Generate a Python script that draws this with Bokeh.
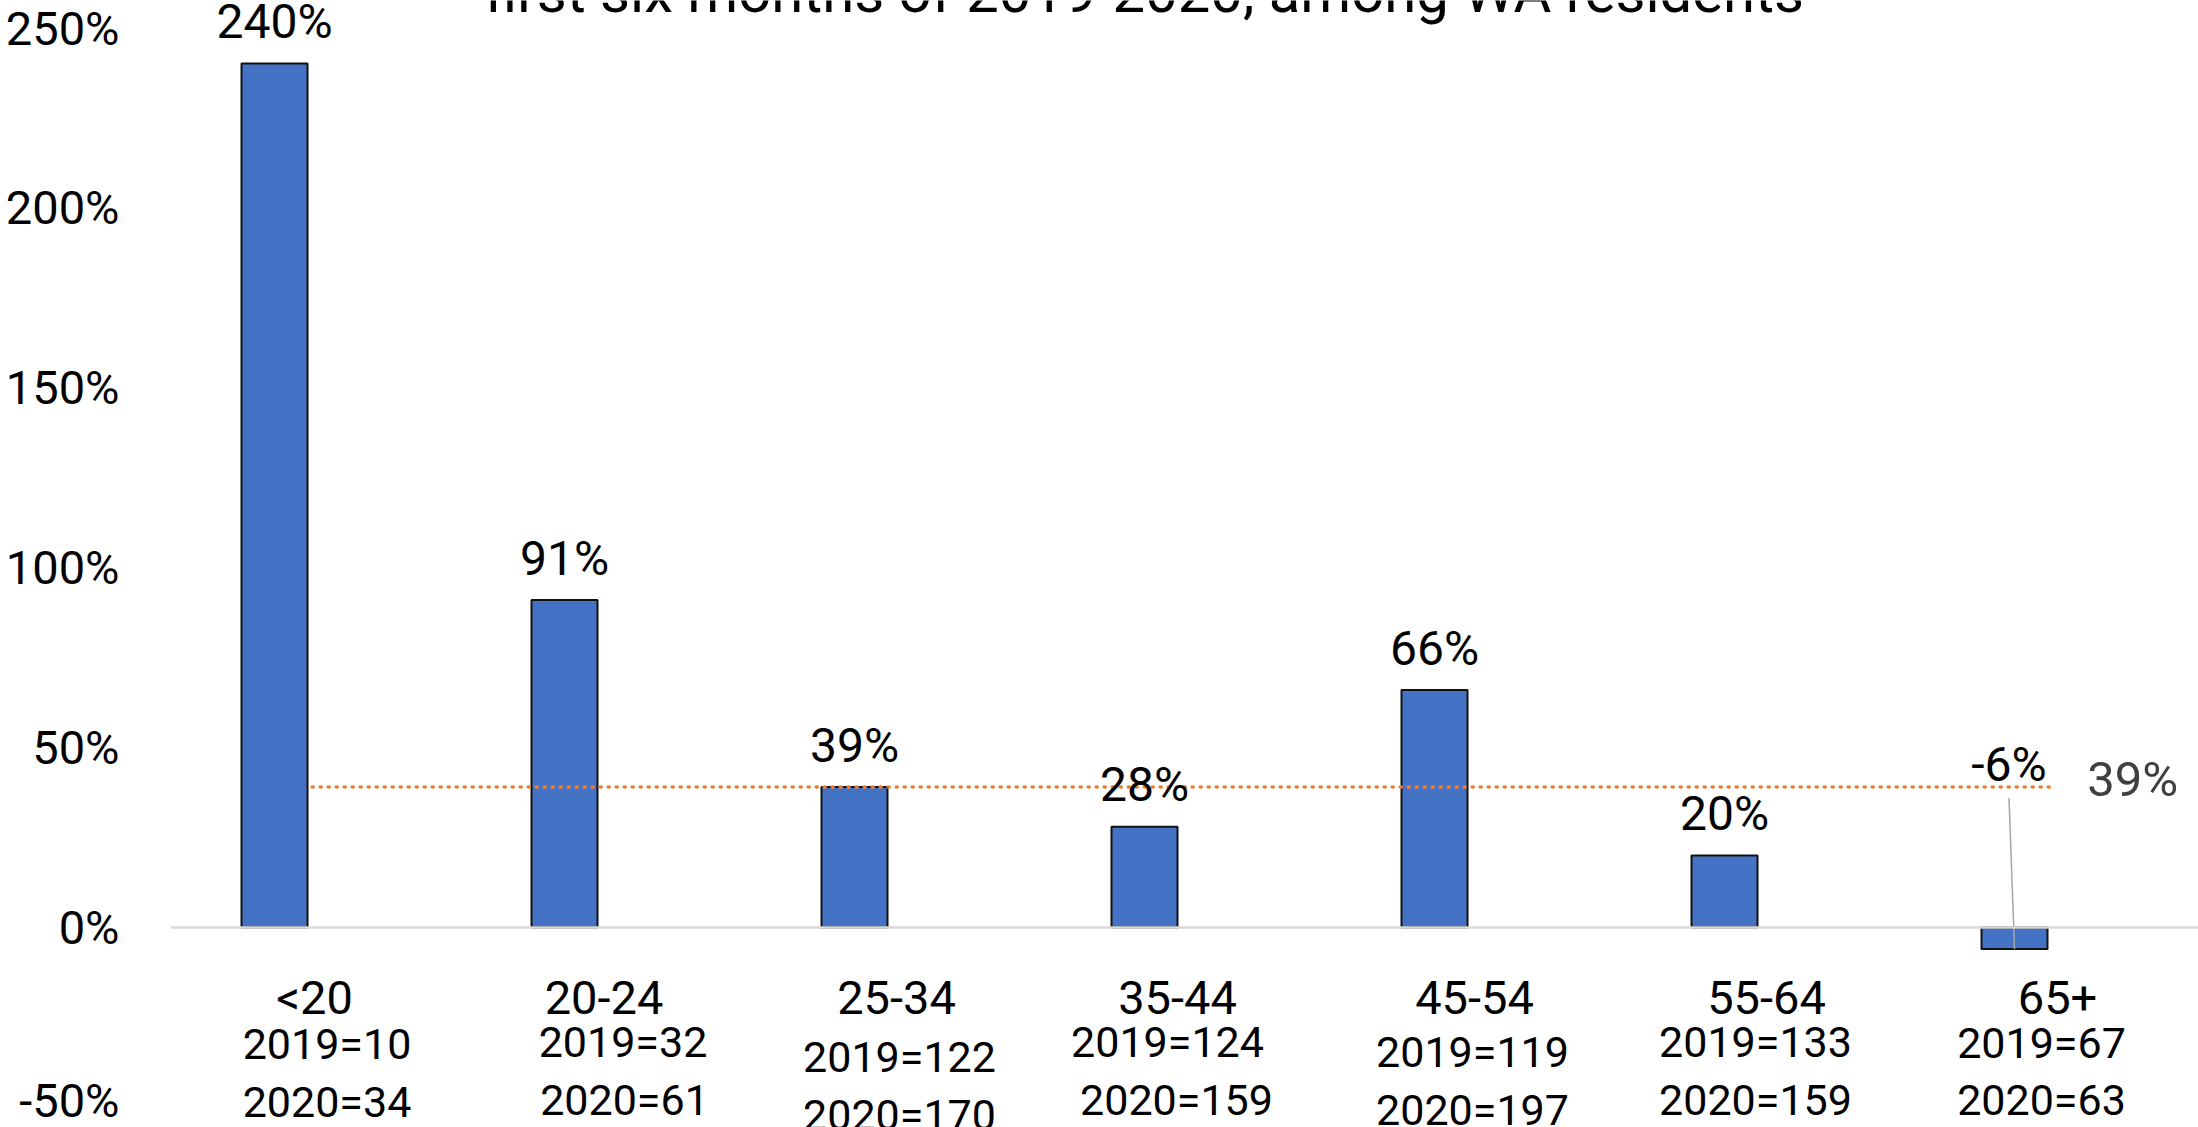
from bokeh.plotting import figure
from bokeh.models import Range1d, FixedTicker, CustomJSTickFormatter, Span
from bokeh.core.properties import value
from bokeh.embed import file_html
from bokeh.resources import INLINE

# ---------------- data ----------------
age_groups = ["<20", "20-24", "25-34", "35-44", "45-54", "55-64", "65+"]
deaths_2019 = [10, 32, 122, 124, 119, 133, 67]
deaths_2020 = [34, 61, 170, 159, 197, 159, 63]
pct_change = [240, 91, 39, 28, 66, 20, -6]
overall_change = 39
y_ticks = [-50, 0, 50, 100, 150, 200, 250]
title_text = "first six months of 2019-2020, among WA residents"

# ---------------- layout / style ----------------
W, H = 2198, 1127
LEFT = 170
CAT_PX = 290.0          # pixels per category
PX_PER_PCT = 3.6        # pixels per percentage point
ZERO_PX = 927           # canvas y of the 0% line
X_START = -104.0 / CAT_PX
X_END = X_START + (W - LEFT) / CAT_PX
Y_END = ZERO_PX / PX_PER_PCT
Y_START = -(H - ZERO_PX) / PX_PER_PCT
BASE_FIX = 0.35         # text renders this many em below the requested baseline

FONT = value("Roboto")
BLUE = "#4472C4"
ORANGE = "#ED7D31"

def dy(px):
    return px / PX_PER_PCT

def dx(px):
    return px / CAT_PX

def base(y, fs):
    """data y of anchor so that the alphabetic baseline lands at y"""
    return y + dy(BASE_FIX * fs)

idx = list(range(len(age_groups)))

# label placement (pixels)
val_lbl_dx = [0, 0, 0, 0, 0, 0, -5.5]
val_lbl_up = [25, 25, 25, 25, 25, 25, 168]
name_dx = [40, 39.5, 42, 33, 40, 42, 43]
name_base = [86] * 7
l1_dx = [52.5, 58.5, 45, 23, 38, 31, 27]
l1_base = [132, 130, 145, 130, 140, 130, 131]
l2_dx = [52.5, 60, 45, 32, 38, 31, 27]
l2_base = [190, 188, 203, 188, 198, 188, 188]
AVG_SHIFT = 0.13
FS_VAL, FS_NAME, FS_N, FS_TITLE, FS_AVG = 48, 47, 43, 58, 49

p = figure(width=W, height=H, title=None,
           x_range=Range1d(X_START, X_END), y_range=Range1d(Y_START, Y_END),
           output_backend="svg", toolbar_location=None, x_axis_location=None,
           min_border_left=LEFT, min_border_right=0,
           min_border_top=0, min_border_bottom=0,
           outline_line_color=None, background_fill_color="white", border_fill_color="white")
p.grid.visible = False

ax = p.yaxis[0]
ax.ticker = FixedTicker(ticks=y_ticks, minor_ticks=[])
ax.formatter = CustomJSTickFormatter(code="return tick.toFixed(0) + '%';")
ax.axis_line_color = None
ax.major_tick_line_color = None
ax.minor_tick_line_color = None
ax.major_tick_out = 0
ax.major_tick_in = 0
ax.minor_tick_out = 0
ax.major_label_standoff = 51
ax.major_label_text_font = "Roboto"
ax.major_label_text_font_size = "47px"
ax.major_label_text_color = "black"

# title (clipped at top, as in the reference): anchor kept inside the frame,
# pushed up with a pixel offset so the baseline sits 12px below the top edge
title_anchor = Y_END - dy(1)
p.text(x=[(idx[0] + idx[-1]) / 2], y=[title_anchor], text=[title_text],
       y_offset=-(BASE_FIX * FS_TITLE - 11),
       text_font=FONT, text_font_size=f"{FS_TITLE}px", text_color="black",
       text_align="center", text_baseline="alphabetic")

# bars
p.vbar(x=idx, top=pct_change, bottom=0, width=66 / CAT_PX,
       fill_color=BLUE, line_color="#111111", line_width=2)

# zero line
p.add_layout(Span(location=0, dimension="width", line_color="#d9d9d9", line_width=2.5))

# overall average dotted line
line_x = [idx[0] + AVG_SHIFT, idx[-1] + AVG_SHIFT]
p.line(x=line_x, y=[overall_change, overall_change], line_color=ORANGE,
       line_width=3.5, line_dash="1 7", line_cap="round")
p.text(x=[line_x[1] + dx(35)], y=[base(overall_change - dy(10), FS_AVG)],
       text=[f"{overall_change}%"],
       text_font=FONT, text_font_size=f"{FS_AVG}px", text_color="#404040",
       text_align="left", text_baseline="alphabetic")

# value labels
lbl_x = [i + dx(o) for i, o in zip(idx, val_lbl_dx)]
lbl_y = [v + dy(u) for v, u in zip(pct_change, val_lbl_up)]
p.text(x=lbl_x, y=[base(y, FS_VAL) for y in lbl_y], text=[f"{v}%" for v in pct_change],
       text_font=FONT, text_font_size=f"{FS_VAL}px", text_color="black",
       text_align="center", text_baseline="alphabetic")

# leader line for negative bars
neg = [i for i, v in enumerate(pct_change) if v < 0]
p.segment(x0=[lbl_x[i] for i in neg], y0=[lbl_y[i] - dy(17) for i in neg],
          x1=[idx[i] for i in neg], y1=[pct_change[i] for i in neg],
          line_color="#a6a6a6", line_width=1.5)

# category labels
p.text(x=[i + dx(o) for i, o in zip(idx, name_dx)],
       y=[base(-dy(b), FS_NAME) for b in name_base],
       text=age_groups, text_font=FONT, text_font_size=f"{FS_NAME}px", text_color="black",
       text_align="center", text_baseline="alphabetic")
p.text(x=[i + dx(o) for i, o in zip(idx, l1_dx)],
       y=[base(-dy(b), FS_N) for b in l1_base],
       text=[f"2019={v}" for v in deaths_2019], text_font=FONT, text_font_size=f"{FS_N}px",
       text_color="black", text_align="center", text_baseline="alphabetic")
p.text(x=[i + dx(o) for i, o in zip(idx, l2_dx)],
       y=[base(-dy(b), FS_N) for b in l2_base],
       text=[f"2020={v}" for v in deaths_2020], text_font=FONT, text_font_size=f"{FS_N}px",
       text_color="black", text_align="center", text_baseline="alphabetic")

open("out.html", "w").write(file_html(p, INLINE))
